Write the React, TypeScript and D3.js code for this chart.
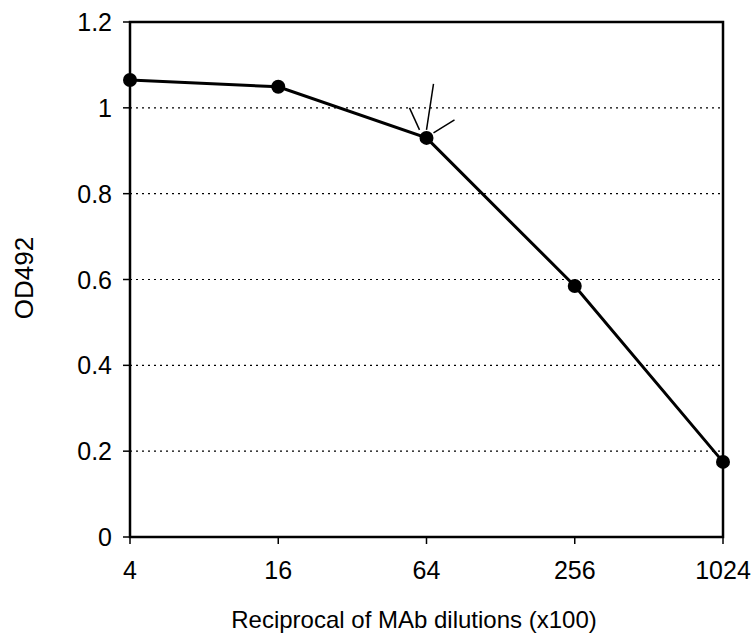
import React from "react";
import * as d3 from "d3";

const dilutions = [4, 16, 64, 256, 1024];
const odValues = [1.065, 1.049, 0.93, 0.585, 0.175];
const yTicks = [0, 0.2, 0.4, 0.6, 0.8, 1, 1.2];
const gridTicks = [0.2, 0.4, 0.6, 0.8, 1];
const xLabel = "Reciprocal of MAb dilutions (x100)";
const yLabel = "OD492";

export default function App() {
  const W = 754, H = 641;
  const left = 130, right = 723, top = 22, bottom = 537;
  const x = d3.scaleLog().base(4).domain([4, 1024]).range([left, right]);
  const y = d3.scaleLinear().domain([0, 1.2]).range([bottom, top]);
  const line = d3.line<number>().x((_, i) => x(dilutions[i])).y((d) => y(d));
  const font = "'Liberation Sans', Arial, sans-serif";
  const px = x(64), py = y(0.93);
  return (
    <svg width={W} height={H} style={{ position: "absolute", left: 0, top: 0, background: "#fff" }}>
      {gridTicks.map((t) => (
        <line key={t} x1={left} x2={right} y1={y(t)} y2={y(t)} stroke="#000" strokeWidth={1.2} strokeDasharray="2,4" />
      ))}
      <rect x={left} y={top} width={right - left} height={bottom - top} fill="none" stroke="#000" strokeWidth={2.5} />
      {yTicks.map((t) => (
        <g key={t}>
          <line x1={left - 7} x2={left} y1={y(t)} y2={y(t)} stroke="#000" strokeWidth={1.5} />
          <text x={left - 18} y={y(t)} dy="0.36em" textAnchor="end" fontFamily={font} fontSize={25}>{t}</text>
        </g>
      ))}
      {dilutions.map((d) => (
        <g key={d}>
          <line x1={x(d)} x2={x(d)} y1={bottom} y2={bottom + 7} stroke="#000" strokeWidth={1.5} />
          <text x={x(d)} y={bottom + 42} textAnchor="middle" fontFamily={font} fontSize={25}>{d}</text>
        </g>
      ))}
      <path d={line(odValues) || ""} fill="none" stroke="#000" strokeWidth={3} />
      {odValues.map((v, i) => (
        <circle key={i} cx={x(dilutions[i])} cy={y(v)} r={7} fill="#000" />
      ))}
      <g stroke="#000" strokeWidth={1.5}>
        <line x1={px - 7} x2={px - 17} y1={py - 8} y2={py - 30} />
        <line x1={px} x2={px + 7} y1={py - 8} y2={py - 54} />
        <line x1={px + 7} x2={px + 28} y1={py - 5} y2={py - 18} />
      </g>
      <text x={414} y={628} textAnchor="middle" fontFamily={font} fontSize={24}>{xLabel}</text>
      <text transform={`translate(${33},${278}) rotate(-90)`} textAnchor="middle" fontFamily={font} fontSize={26}>{yLabel}</text>
    </svg>
  );
}
